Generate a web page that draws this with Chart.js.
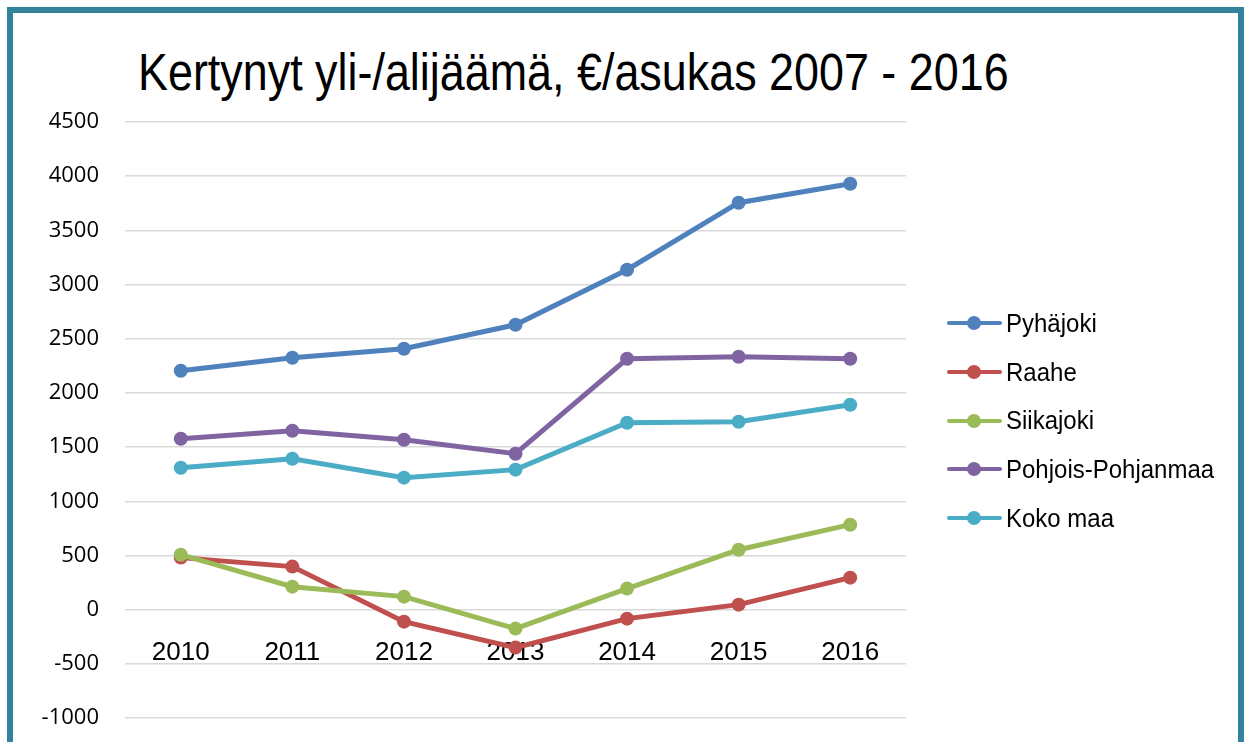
<!DOCTYPE html>
<html>
<head>
<meta charset="utf-8">
<script src="https://cdn.jsdelivr.net/npm/chart.js@4.4.1/dist/chart.umd.min.js"></script>
<style>
  html, body { margin: 0; padding: 0; background: #fff; overflow: hidden; }
  body { width: 1246px; height: 742px; position: relative; }
  .frame { position: absolute; left: 7px; top: 7px; width: 1225px; height: 800px; border: 6px solid #31849B; }
  #chartWrap { position: absolute; left: 0; top: 0; width: 1246px; height: 742px; }
  .title { position: absolute; left: 138px; top: 47px; font-family: 'Liberation Sans', sans-serif; font-size: 51px; line-height: 1; color: #000; white-space: nowrap; transform: scaleX(0.88); transform-origin: left top; }
  #legend { position: absolute; left: 947px; top: 299px; font-family: 'Liberation Sans', sans-serif; font-size: 25px; color: #000; }
  .item { height: 48.7px; display: flex; align-items: center; }
  .swatch { width: 55px; height: 4px; position: relative; margin-right: 4px; border-radius: 2px; flex: none; }
  .swatch span { position: absolute; left: 20px; top: -5px; width: 14px; height: 14px; border-radius: 50%; }
  .lbl { transform: scaleX(0.96); transform-origin: left center; white-space: nowrap; }
</style>
</head>
<body>
<div class="frame"></div>
<div class="title">Kertynyt yli-/alijäämä, €/asukas 2007 - 2016</div>
<div id="chartWrap"><canvas id="lineChart"></canvas></div>
<div id="legend"></div>
<script>
    const years = ['2010', '2011', '2012', '2013', '2014', '2015', '2016'];
    const seriesNames = ['Pyhäjoki', 'Raahe', 'Siikajoki', 'Pohjois-Pohjanmaa', 'Koko maa'];
    const pyhajoki = [2205, 2325, 2408, 2629, 3137, 3755, 3930];
    const raahe = [480, 397, -111, -350, -83, 46, 295];
    const siikajoki = [507, 212, 120, -175, 194, 553, 784];
    const pohjoisPohjanmaa = [1577, 1651, 1568, 1439, 2315, 2334, 2315];
    const kokoMaa = [1310, 1393, 1218, 1292, 1725, 1734, 1891];
    const yMin = -1000, yMax = 4500, yStep = 500;

    const colors = ['#4F81BD', '#C0504D', '#9BBB59', '#8064A2', '#4BACC6'];
    const values = [pyhajoki, raahe, siikajoki, pohjoisPohjanmaa, kokoMaa];

    const datasets = seriesNames.map(function(name, i) {
        return {
            label: name,
            data: values[i],
            borderColor: colors[i],
            backgroundColor: colors[i],
            pointBackgroundColor: colors[i],
            pointBorderColor: colors[i],
            borderWidth: 5,
            pointRadius: 7,
            pointBorderWidth: 0,
            tension: 0,
            order: seriesNames.length - i // later series on top, like excel
        };
    });

    // legend as html, line + dot
    const legend = document.getElementById('legend');
    datasets.forEach(function(ds) {
        const item = document.createElement('div');
        item.className = 'item';
        const sw = document.createElement('div');
        sw.className = 'swatch';
        sw.style.background = ds.borderColor;
        const dot = document.createElement('span');
        dot.style.background = ds.borderColor;
        sw.appendChild(dot);
        const txt = document.createElement('div');
        txt.className = 'lbl';
        txt.textContent = ds.label;
        item.appendChild(sw);
        item.appendChild(txt);
        legend.appendChild(item);
    });

    const ctx = document.getElementById('lineChart').getContext('2d');
    const chart = new Chart(ctx, {
        type: 'line',
        data: { labels: years, datasets: datasets },
        options: {
            responsive: true,
            maintainAspectRatio: false,
            animation: false,
            layout: { padding: { left: 0, right: 340, top: 122, bottom: 24 } },
            plugins: { legend: { display: false }, title: { display: false }, tooltip: { enabled: false } },
            scales: {
                x: {
                    position: { y: 0 },
                    offset: true,
                    grid: { display: false, drawTicks: false },
                    border: { display: false },
                    ticks: {
                        padding: 28,
                        color: '#000',
                        font: { family: "'Liberation Sans', sans-serif", size: 26 }
                    },
                    afterFit: function(scale) { scale.height = 0; }
                },
                y: {
                    min: yMin,
                    max: yMax,
                    grid: { color: '#D9D9D9', lineWidth: 1.5, drawTicks: false },
                    border: { display: false },
                    ticks: {
                        stepSize: yStep,
                        padding: 26,
                        color: '#000',
                        font: { family: "'Open Sans', sans-serif", size: 22 },
                        callback: function(v) { return String(v); }
                    },
                    afterFit: function(scale) {
                        scale.width = 125;
                        scale.paddingTop = 0;
                        scale.paddingBottom = 0;
                    }
                }
            }
        }
    });
</script>
</body>
</html>
